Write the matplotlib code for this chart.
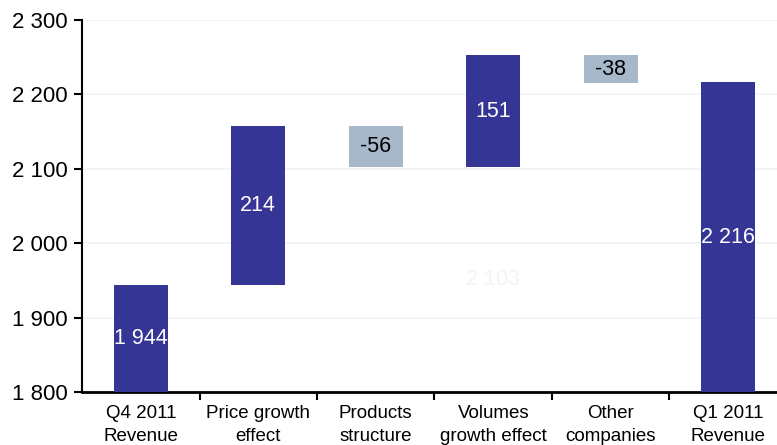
import numpy as np
import matplotlib.pyplot as plt

# Revenue bridge Q4 2011 -> Q1 2011
categories = ['Q4 2011\nRevenue', 'Price growth\neffect', 'Products\nstructure',
              'Volumes\ngrowth effect', 'Other\ncompanies', 'Q1 2011\nRevenue']
start_value = 1944
changes = [214, -56, 151, -38]
end_value = 2216
hidden_base_label = '2 103'   # faint label left on the base of the volumes bar

y_ticks = [1800, 1900, 2000, 2100, 2200, 2300]

dark = '#353596'
light = '#a6b8ca'

plt.rcParams['font.family'] = ['Liberation Sans', 'DejaVu Sans']


def fmt(v):
    return f'{v:,}'.replace(',', ' ')


# bar bottoms / tops for the waterfall
bottoms, tops = [1800], [start_value]
level = start_value
for c in changes:
    bottoms.append(level)
    level += c
    tops.append(level)
bottoms.append(1800)
tops.append(end_value)

fig = plt.figure(figsize=(7.77, 4.45), dpi=100)
ax = fig.add_axes([82 / 777, 53 / 445, 705 / 777, 372 / 445])

x = np.arange(len(categories))
for i in x:
    lo, hi = min(bottoms[i], tops[i]), max(bottoms[i], tops[i])
    neg = i in (2, 4)
    ax.bar(i, hi - lo, bottom=lo, width=0.46, color=light if neg else dark, zorder=3)
    if i == 0:
        txt = fmt(start_value)
    elif i == len(categories) - 1:
        txt = fmt(end_value)
    else:
        txt = fmt(changes[i - 1])
    ax.text(i, (lo + hi) / 2, txt, ha='center', va='center', fontsize=15.5,
            color='black' if neg else 'white', zorder=4)

# faint label of the invisible base under the volumes bar
ax.text(3, (1800 + bottoms[3]) / 2, hidden_base_label, ha='center', va='center',
        fontsize=15.5, color='#f0f5f5', zorder=2)

ax.set_xlim(-0.5, 5.5)
ax.set_ylim(1800, 2300)
ax.set_yticks(y_ticks)
ax.set_yticklabels([fmt(v) for v in y_ticks], fontsize=16)
ax.grid(axis='y', color='#eef5f5', lw=1.2, zorder=0)

ax.set_xticks(x)
ax.set_xticklabels(categories, fontsize=13.5, linespacing=1.5)
ax.tick_params(axis='x', length=0, pad=9)
ax.set_xticks(np.arange(0.5, 5.5, 1), minor=True)
ax.tick_params(axis='x', which='minor', length=6, width=1.5, direction='out')
ax.tick_params(axis='y', length=6, width=1.5, direction='out', pad=4)

for s in ('top', 'right'):
    ax.spines[s].set_visible(False)
ax.spines['left'].set_linewidth(1.5)
ax.spines['bottom'].set_linewidth(2)

fig.savefig('out.png', dpi=100)
